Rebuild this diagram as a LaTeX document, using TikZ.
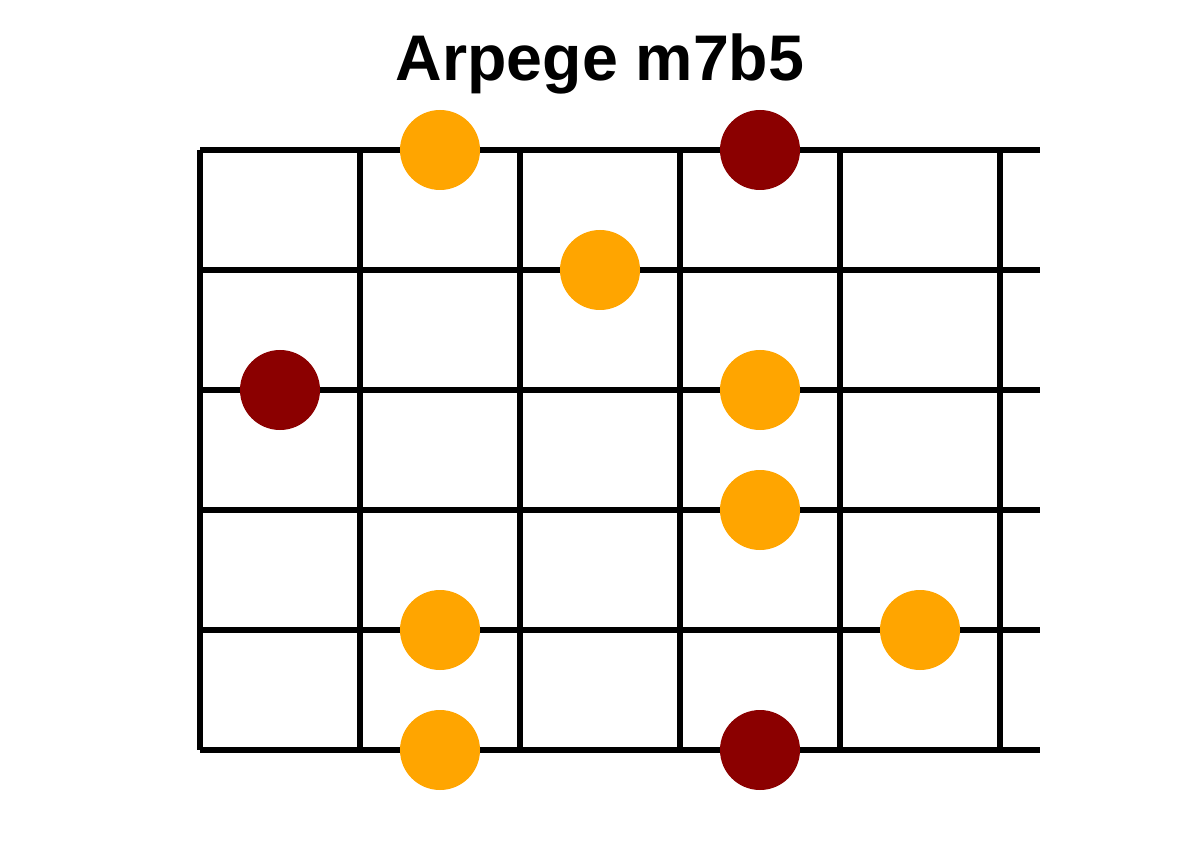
\documentclass[tikz,border=0pt]{standalone}
\usepackage{fontspec}
\setmainfont{Liberation Sans}
\definecolor{dotorange}{HTML}{FFA500}
\definecolor{dotred}{HTML}{8B0000}
\begin{document}
\begin{tikzpicture}[x=1pt,y=-1pt,
  fret/.style={line width=5.5pt,black},
  od/.style={circle,fill=dotorange,minimum size=80pt,inner sep=0pt},
  rd/.style={circle,fill=dotred,minimum size=80pt,inner sep=0pt}]
\useasboundingbox[fill=white] (0,0) rectangle (1200,850);
\node[anchor=base,font=\bfseries\fontsize{64.5}{70}\selectfont] (title) at (600,81) {Arpege m7b5};
\foreach \i/\y in {1/150,2/270,3/390,4/510,5/630,6/750}{
  \coordinate (s\i a) at (200,\y);
  \coordinate (s\i b) at (1040,\y);
  \draw[fret] (s\i a) -- (s\i b);
}
\foreach \j/\x in {1/200,2/360,3/520,4/680,5/840,6/1000}{
  \coordinate (f\j a) at (\x,150);
  \coordinate (f\j b) at (\x,750);
  \draw[fret] (f\j a) -- (f\j b);
}
\node[od] (o1) at (440,150) {};
\node[od] (o2) at (600,270) {};
\node[od] (o3) at (760,390) {};
\node[od] (o4) at (760,510) {};
\node[od] (o5) at (440,630) {};
\node[od] (o6) at (920,630) {};
\node[od] (o7) at (440,750) {};
\node[rd] (r1) at (760,150) {};
\node[rd] (r2) at (280,390) {};
\node[rd] (r3) at (760,750) {};
\end{tikzpicture}
\end{document}
